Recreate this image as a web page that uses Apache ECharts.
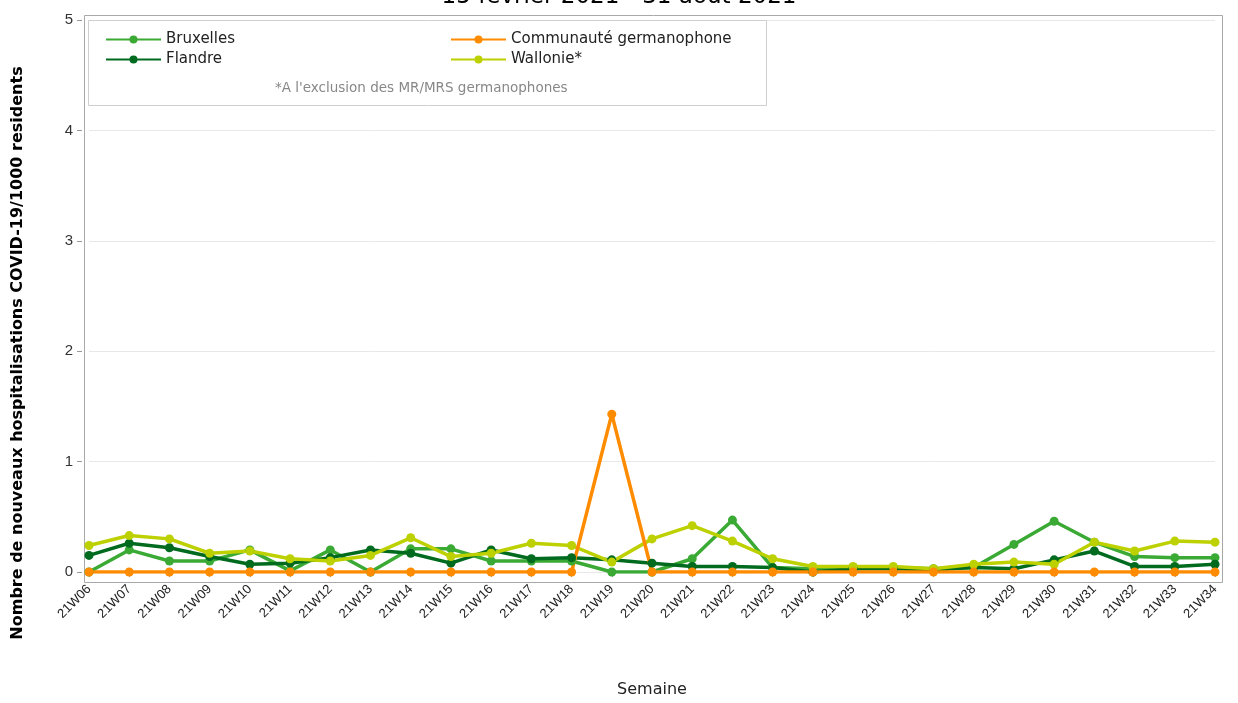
<!DOCTYPE html>
<html>
<head>
<meta charset="utf-8">
<script src="https://cdn.jsdelivr.net/npm/echarts@6/dist/echarts.min.js"></script>
<style>html,body{margin:0;padding:0;background:#fff}#c{width:1238px;height:703px}</style>
</head>
<body>
<div id="c"></div>
<script>
var weeks = ['21W06','21W07','21W08','21W09','21W10','21W11','21W12','21W13','21W14','21W15','21W16','21W17','21W18','21W19','21W20','21W21','21W22','21W23','21W24','21W25','21W26','21W27','21W28','21W29','21W30','21W31','21W32','21W33','21W34'];
var bruxelles = [0,0.20,0.10,0.10,0.20,0.01,0.20,0,0.21,0.21,0.10,0.10,0.10,0,0,0.12,0.47,0.04,0.03,0.04,0.04,0.03,0.04,0.25,0.46,0.27,0.14,0.13,0.13];
var flandre = [0.15,0.26,0.22,0.14,0.07,0.08,0.13,0.20,0.17,0.08,0.20,0.12,0.13,0.11,0.08,0.05,0.05,0.04,0,0.03,0.03,0.02,0.04,0.03,0.11,0.19,0.05,0.05,0.07];
var germanophone = [0,0,0,0,0,0,0,0,0,0,0,0,0,1.43,0,0,0,0,0,0,0,0,0,0,0,0,0,0,0];
var wallonie = [0.24,0.33,0.30,0.17,0.19,0.12,0.10,0.15,0.31,0.14,0.17,0.26,0.24,0.09,0.30,0.42,0.28,0.12,0.05,0.05,0.05,0.03,0.07,0.09,0.07,0.27,0.19,0.28,0.27];
var yTicks = [0,1,2,3,4,5];

var chart = echarts.init(document.getElementById('c'));
function mk(name, data, color){
  return {name:name, type:'line', data:data, symbol:'circle', symbolSize:9,
    lineStyle:{width:3.5,color:color}, itemStyle:{color:color}, emphasis:{disabled:true}};
}
var font = 'Liberation Sans, Arial, sans-serif';
var wide = 'DejaVu Sans, sans-serif';
chart.setOption({
  animation:false,
  textStyle:{fontFamily:font},
  title:{text:'15 février 2021 - 31 août 2021', left:'center', top:-19,
    textStyle:{fontSize:23,fontWeight:'normal',color:'#000',fontFamily:wide}},
  grid:{left:89,right:23,top:20,bottom:129},
  graphic:[
    {type:'rect', left:82, top:13, shape:{width:1138,height:567}, style:{fill:'none',stroke:'#a8a8a8',lineWidth:1}, z:-1},
    {type:'rect', left:88, top:20, shape:{width:678,height:85}, style:{fill:'#fff',stroke:'#cfcfcf',lineWidth:1}, z:10},
    {type:'text', left:275, top:81, z:11, style:{text:"*A l'exclusion des MR/MRS germanophones", fill:'#888', font:'13.5px '+wide}}
  ],
  legend:[
    {data:['Bruxelles','Flandre'], orient:'vertical', left:100, top:27, itemWidth:55, itemHeight:10, itemGap:5, z:12,
      textStyle:{fontSize:15,color:'#222',fontFamily:wide}},
    {data:['Communauté germanophone','Wallonie*'], orient:'vertical', left:445, top:27, itemWidth:55, itemHeight:10, itemGap:5, z:12,
      textStyle:{fontSize:15,color:'#222',fontFamily:wide}}
  ],
  xAxis:{type:'category', data:weeks, boundaryGap:false, offset:6,
    name:'Semaine', nameLocation:'middle', nameGap:104,
    nameTextStyle:{fontSize:16,color:'#222',fontFamily:wide},
    axisLine:{show:false},
    axisTick:{show:true, alignWithLabel:true, length:5, lineStyle:{color:'#999'}},
    axisLabel:{rotate:45, fontSize:13, color:'#222', margin:9, interval:0},
    splitLine:{show:false}},
  yAxis:{type:'value', min:0, max:5, interval:1, offset:7,
    name:'Nombre de nouveaux hospitalisations COVID-19/1000 residents',
    nameLocation:'middle', nameGap:56,
    nameTextStyle:{fontSize:16,fontWeight:'bold',color:'#000',fontFamily:wide,padding:[0,114,0,0]},
    axisLine:{show:false},
    axisTick:{show:true,length:5,lineStyle:{color:'#999'}},
    axisLabel:{fontSize:15,color:'#333',margin:9,formatter:function(v){return yTicks.indexOf(v)>=0?String(v):'';}},
    splitLine:{show:true,lineStyle:{color:'#e8e8e8',width:1}}},
  series:[
    mk('Bruxelles', bruxelles, '#3aaa35'),
    mk('Flandre', flandre, '#006b1f'),
    mk('Wallonie*', wallonie, '#bdd000'),
    mk('Communauté germanophone', germanophone, '#ff8c00')
  ]
});
</script>
</body>
</html>
